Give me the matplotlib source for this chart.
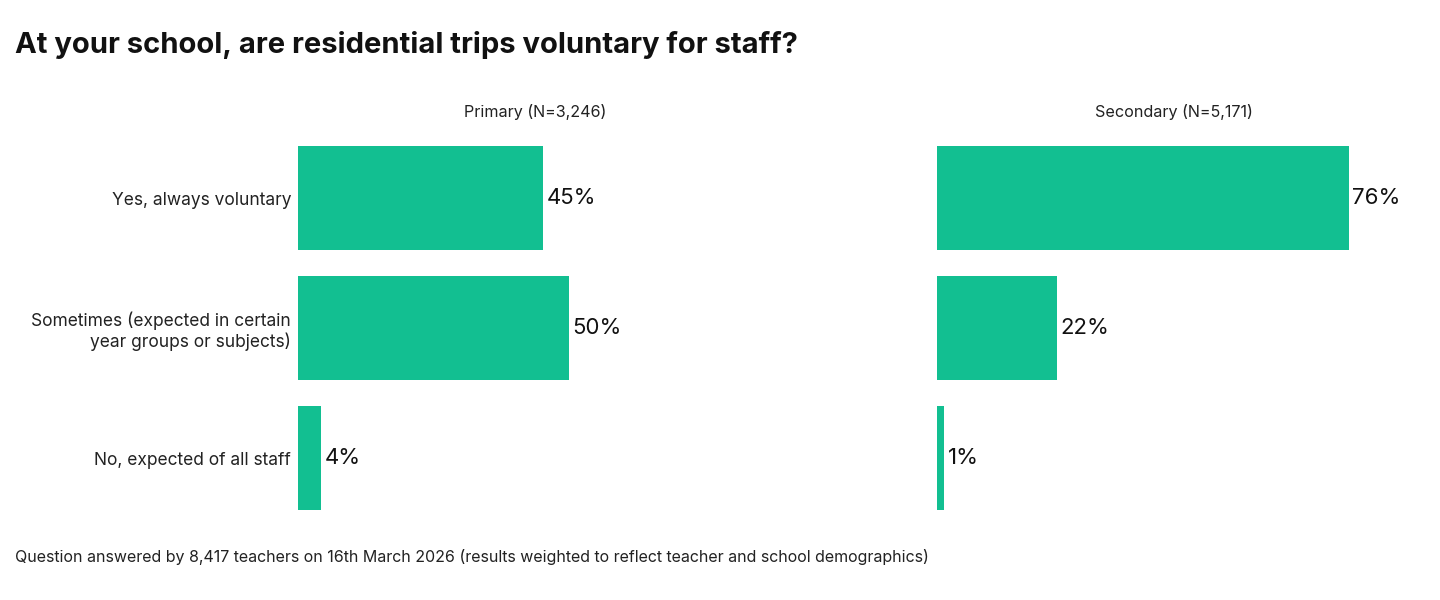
import matplotlib
matplotlib.use("Agg")
import matplotlib.pyplot as plt

categories = ["Yes, always voluntary",
              "Sometimes (expected in certain\nyear groups or subjects)",
              "No, expected of all staff"]
panel_titles = ["Primary (N=3,246)", "Secondary (N=5,171)"]
primary = [45.2, 50.0, 4.2]
secondary = [76.0, 22.1, 1.3]
title = "At your school, are residential trips voluntary for staff?"
footnote = ("Question answered by 8,417 teachers on 16th March 2026 "
            "(results weighted to reflect teacher and school demographics)")

plt.rcParams['font.family'] = ['Inter', 'DejaVu Sans']
green = "#12BF91"

fig = plt.figure(figsize=(14.4, 6), dpi=100)
W, H = 1440, 600
ax_top, ax_bot = 133, 523
axes = []
for left, right in [(298, 772), (937, 1411)]:
    ax = fig.add_axes([left / W, 1 - ax_bot / H, (right - left) / W, (ax_bot - ax_top) / H])
    axes.append(ax)

for i, (ax, vals, pt) in enumerate(zip(axes, [primary, secondary], panel_titles)):
    y = list(range(len(categories)))
    ax.barh(y, vals, height=0.8, color=green)
    ax.set_ylim(len(categories) - 0.5, -0.5)
    ax.set_xlim(0, 87.5)
    for yi, v in zip(y, vals):
        ax.text(v + 0.7, yi, f"{round(v)}%", va="center", ha="left",
                fontsize=16, color="#111111")
    ax.set_xticks([])
    if i == 0:
        ax.set_yticks(y)
        labels = ax.set_yticklabels(categories, fontsize=12.5, color="#222222")
        for lb in labels:
            lb.set_linespacing(1.15)
        ax.tick_params(axis="y", length=0, pad=5)
    else:
        ax.set_yticks([])
    for s in ax.spines.values():
        s.set_visible(False)
    ax.text(0.5, 1.0 + 21 / (ax_bot - ax_top), pt, transform=ax.transAxes,
            ha="center", va="center", fontsize=11.6, color="#222222")

fig.text(15 / W, 1 - 45 / H, title, fontsize=21, fontweight="bold",
         ha="left", va="center", color="#111111")
fig.text(15 / W, 1 - 557 / H, footnote, fontsize=11.5, ha="left",
         va="center", color="#222222")

fig.savefig("out.png", dpi=100, facecolor="white")
